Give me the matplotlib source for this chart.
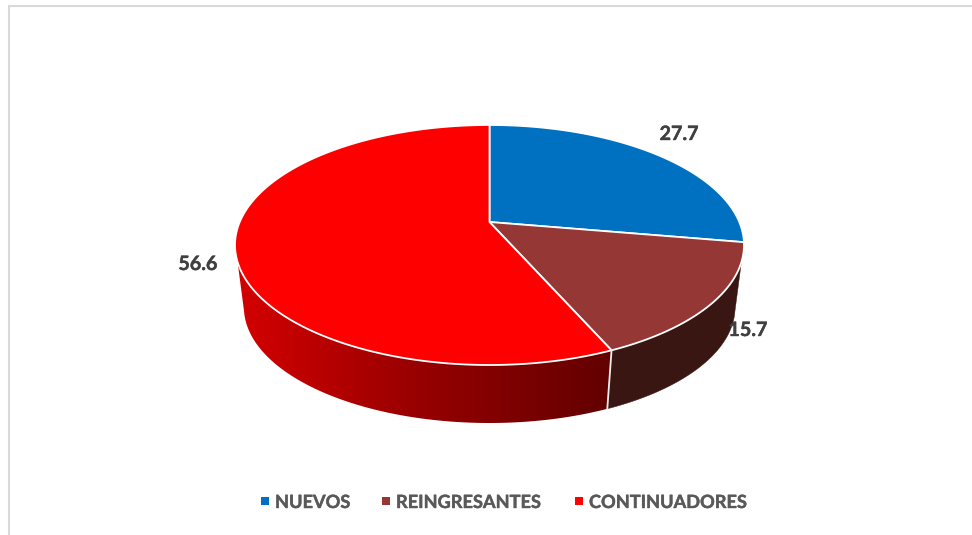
# -*- coding: utf-8 -*-
import numpy as np
import matplotlib
matplotlib.use("Agg")
import matplotlib.pyplot as plt
import matplotlib.patheffects as pe
from matplotlib.colors import LinearSegmentedColormap
from matplotlib.patches import Polygon

categorias = ["NUEVOS", "REINGRESANTES", "CONTINUADORES"]
valores = [27.7, 15.7, 56.6]
colores = ["#0070C0", "#953735", "#FF0000"]
etiquetas_xy = [(679, 134), (748, 330), (198, 264)]
leyenda_x = [261, 382, 575]

plt.rcParams['font.family'] = ['Lato', 'DejaVu Sans']
TEXTO = "#404040"
GRUESO = [pe.withStroke(linewidth=0.3, foreground=TEXTO)]
GRUESO_LEY = [pe.withStroke(linewidth=0.3, foreground="#595959")]

# proyeccion en perspectiva del disco
CX, CY = 489.5, 222
K = 46 / 240
A = 97 * (1 + K)
C = 254.5 * np.sqrt(1 - K ** 2)
ALTO_Y0, ESCALA = 285, 0.965


def arriba(t):
    d = 1 + K * np.sin(t)
    return CX + C * np.cos(t) / d, CY - A * np.sin(t) / d


def abajo(t):
    d = 1 + K * np.sin(t)
    return CX + ESCALA * C * np.cos(t) / d, ALTO_Y0 - ESCALA * A * np.sin(t) / d


def lateral(t1, t2a, t2b):
    xa, ya = arriba(np.linspace(t1, t2a, 200))
    xb, yb = abajo(np.linspace(t1, t2b, 200))
    return np.r_[np.c_[xa, ya], np.c_[xb, yb][::-1]]


fig = plt.figure(figsize=(9.72, 5.35), dpi=100)
ax = fig.add_axes([0, 0, 1, 1])

# marco del grafico
ax.plot([9, 9, 972], [535, 5.8, 5.8], color="#D9D9D9", lw=1.5, solid_joinstyle="miter")

# angulos de cada sector, en sentido horario desde arriba
acum = np.cumsum([0] + valores) / sum(valores)
angulos = np.pi / 2 - 2 * np.pi * acum

# lateral rojo con degradado horizontal
rojo_lado = LinearSegmentedColormap.from_list("r", ["#D40000", "#960000", "#620000"])
forma = Polygon(lateral(angulos[2], np.radians(-161), np.radians(-167)),
                facecolor="none", edgecolor="none", transform=ax.transData)
ax.add_patch(forma)
franja = rojo_lado(np.linspace(0, 1, 512))[np.newaxis, :, :3]
img = ax.imshow(franja, extent=(236, 610, 430, 250), aspect="auto", interpolation="bilinear")
img.set_clip_path(forma)

# lateral marron
ax.add_patch(Polygon(lateral(angulos[2], np.radians(-19), np.radians(-13)),
                     facecolor="#3A1613", edgecolor="#3A1613", lw=0.3))

# costura blanca del lateral
xs, ys = arriba(angulos[2])
xi, yi = abajo(angulos[2])
ax.plot([xs, xi], [ys, yi], color="#F0F0F0", lw=1.3)

# cara superior
for i in range(3):
    x, y = arriba(np.linspace(angulos[i], angulos[i + 1], 200))
    pts = np.r_[[(CX, CY)], np.c_[x, y]]
    ax.add_patch(Polygon(pts, closed=True, facecolor=colores[i], edgecolor="white", lw=1.3, joinstyle="round"))

# etiquetas de datos
for v, (x, y) in zip(valores, etiquetas_xy):
    ax.text(x, y, str(v), ha="center", va="center", fontsize=14.2, fontweight="bold",
            color=TEXTO, path_effects=GRUESO)

# leyenda
for nombre, col, x in zip(categorias, colores, leyenda_x):
    ax.scatter([x + 3.5], [501], marker="s", s=26, color=col, linewidths=0)
    ax.text(x + 14, 502.5, nombre, ha="left", va="center", fontsize=13.1, fontweight="bold",
            color="#595959", path_effects=GRUESO_LEY)

ax.set_xlim(0, 972)
ax.set_ylim(535, 0)
ax.axis("off")
fig.savefig("out.png", dpi=100)
